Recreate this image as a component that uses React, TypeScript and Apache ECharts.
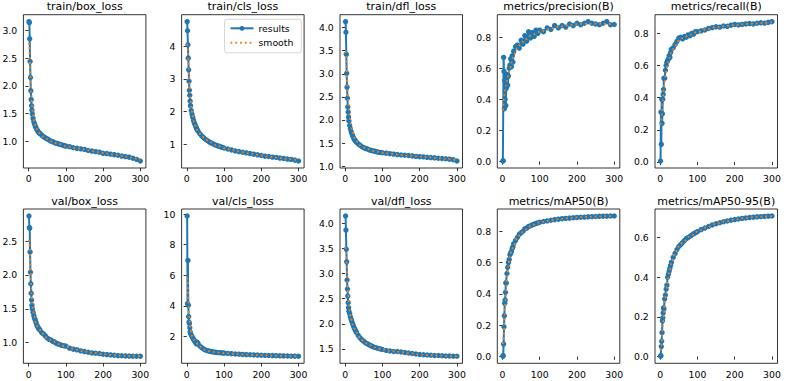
import React, { useEffect, useRef } from "react";
import * as echarts from "echarts";

// Epochs at which the per-epoch results are recorded (dense early, sparser later)
const EPOCHS = [
  1, 2, 3, 4, 5, 6, 7, 8, 9, 10,
  12, 14, 16, 18, 20, 22, 24, 26, 28, 30,
  35, 40, 45, 50, 55, 60, 65, 70, 75, 80, 85, 90, 95, 100,
  110, 120, 130, 140, 150, 160, 170, 180, 190, 200, 210, 220, 230, 240, 250, 260, 270, 280, 290, 300,
];

// Epochs at which the smoothed curve is sampled
const SMOOTH_EPOCHS = [1, 2, 3, 4, 5, 6, 7, 8, 10, 12, 15, 20, 25, 30, 40, 50, 60, 80, 100, 125, 150, 175, 200, 225, 250, 275, 300];

const TRAIN_BOX = [
  3.16, 3.14, 2.85, 2.44, 2.15, 1.91, 1.75, 1.64, 1.56, 1.49,
  1.41, 1.35, 1.31, 1.27, 1.24, 1.21, 1.19, 1.17, 1.15, 1.14,
  1.11, 1.08, 1.06, 1.04, 1.02, 1.0, 0.99, 0.97, 0.96, 0.95, 0.94, 0.93, 0.92, 0.91,
  0.9, 0.88, 0.87, 0.86, 0.85, 0.83, 0.82, 0.81, 0.8, 0.78, 0.775, 0.765, 0.755, 0.745, 0.73, 0.72, 0.71, 0.69, 0.67, 0.64,
];
const TRAIN_BOX_SMOOTH = [2.78, 2.7, 2.56, 2.38, 2.19, 2.02, 1.88, 1.76, 1.59, 1.47, 1.36, 1.25, 1.18, 1.14, 1.08, 1.04, 1.0, 0.95, 0.91, 0.875, 0.85, 0.815, 0.785, 0.76, 0.735, 0.7, 0.66];

const TRAIN_CLS = [
  4.76, 4.48, 4.05, 3.64, 3.28, 2.93, 2.65, 2.5, 2.32, 2.18,
  2.03, 1.92, 1.82, 1.73, 1.66, 1.6, 1.54, 1.49, 1.44, 1.4,
  1.32, 1.25, 1.2, 1.15, 1.11, 1.07, 1.04, 1.01, 0.98, 0.96, 0.94, 0.92, 0.9, 0.88,
  0.85, 0.82, 0.79, 0.77, 0.75, 0.73, 0.71, 0.69, 0.67, 0.65, 0.63, 0.62, 0.6, 0.59, 0.57, 0.56, 0.54, 0.53, 0.51, 0.48,
];
const TRAIN_CLS_SMOOTH = [4.08, 3.98, 3.8, 3.57, 3.33, 3.09, 2.88, 2.69, 2.38, 2.14, 1.9, 1.66, 1.51, 1.4, 1.25, 1.15, 1.07, 0.96, 0.88, 0.81, 0.75, 0.7, 0.65, 0.61, 0.57, 0.54, 0.5];

const TRAIN_DFL = [
  4.13, 3.9, 3.42, 3.01, 2.71, 2.47, 2.28, 2.17, 2.06, 1.98,
  1.88, 1.81, 1.75, 1.7, 1.66, 1.62, 1.59, 1.56, 1.54, 1.52,
  1.48, 1.45, 1.42, 1.4, 1.38, 1.37, 1.35, 1.34, 1.33, 1.32, 1.31, 1.3, 1.295, 1.29,
  1.28, 1.27, 1.26, 1.25, 1.24, 1.235, 1.23, 1.22, 1.21, 1.205, 1.2, 1.19, 1.185, 1.18, 1.17, 1.165, 1.16, 1.15, 1.14, 1.11,
];
const TRAIN_DFL_SMOOTH = [3.49, 3.41, 3.28, 3.11, 2.93, 2.76, 2.6, 2.46, 2.23, 2.07, 1.91, 1.74, 1.62, 1.54, 1.45, 1.4, 1.37, 1.32, 1.29, 1.265, 1.24, 1.225, 1.205, 1.19, 1.17, 1.155, 1.13];

const PRECISION = [
  0.003, 0.005, 0.67, 0.58, 0.34, 0.52, 0.4, 0.55, 0.36, 0.47,
  0.56, 0.49, 0.55, 0.6, 0.62, 0.66, 0.61, 0.68, 0.64, 0.71,
  0.74, 0.75, 0.73, 0.78, 0.755, 0.81, 0.775, 0.835, 0.795, 0.83, 0.805, 0.845, 0.825, 0.845,
  0.835, 0.86, 0.85, 0.875, 0.86, 0.875, 0.865, 0.885, 0.875, 0.89, 0.88, 0.89, 0.9, 0.89, 0.885, 0.88, 0.89, 0.9, 0.88, 0.882,
];
const PRECISION_SMOOTH = [0.33, 0.35, 0.38, 0.41, 0.43, 0.45, 0.46, 0.47, 0.49, 0.52, 0.55, 0.6, 0.64, 0.68, 0.73, 0.76, 0.785, 0.815, 0.835, 0.852, 0.866, 0.876, 0.884, 0.888, 0.887, 0.886, 0.882];

const RECALL = [
  0.006, 0.31, 0.11, 0.39, 0.24, 0.3, 0.39, 0.42, 0.45, 0.52,
  0.52, 0.57, 0.6, 0.62, 0.63, 0.64, 0.66, 0.65, 0.68, 0.7,
  0.71, 0.73, 0.75, 0.77, 0.775, 0.765, 0.78, 0.775, 0.79, 0.785, 0.8, 0.795, 0.81, 0.81,
  0.815, 0.82, 0.83, 0.835, 0.84, 0.838, 0.845, 0.843, 0.85, 0.855, 0.852, 0.855, 0.858, 0.86, 0.858, 0.862, 0.865, 0.863, 0.868, 0.872,
];
const RECALL_SMOOTH = [0.23, 0.24, 0.26, 0.29, 0.32, 0.35, 0.38, 0.41, 0.46, 0.5, 0.55, 0.61, 0.65, 0.68, 0.725, 0.755, 0.77, 0.79, 0.808, 0.826, 0.838, 0.845, 0.852, 0.857, 0.86, 0.864, 0.868];

const VAL_BOX = [
  2.87, 2.7, 2.69, 2.34, 2.04, 1.87, 1.73, 1.63, 1.55, 1.5,
  1.45, 1.4, 1.36, 1.33, 1.3, 1.26, 1.24, 1.22, 1.2, 1.19,
  1.15, 1.13, 1.1, 1.07, 1.05, 1.04, 1.02, 1.01, 0.99, 0.98, 0.97, 0.96, 0.955, 0.95,
  0.92, 0.905, 0.895, 0.88, 0.87, 0.86, 0.85, 0.845, 0.84, 0.83, 0.825, 0.82, 0.815, 0.81, 0.808, 0.805, 0.803, 0.8, 0.8, 0.8,
];
const VAL_BOX_SMOOTH = [2.52, 2.47, 2.38, 2.25, 2.1, 1.96, 1.84, 1.73, 1.58, 1.47, 1.39, 1.29, 1.23, 1.19, 1.13, 1.07, 1.04, 0.98, 0.945, 0.9, 0.87, 0.85, 0.832, 0.818, 0.808, 0.803, 0.8];

const VAL_CLS = [
  9.87, 4.15, 6.97, 4.04, 3.3, 2.95, 2.85, 2.57, 2.3, 2.2,
  2.1, 2.0, 1.9, 1.82, 1.75, 1.66, 1.6, 1.52, 1.62, 1.55,
  1.38, 1.28, 1.19, 1.12, 1.08, 1.05, 1.02, 1.0, 0.98, 0.96, 0.95, 0.94, 0.93, 0.92,
  0.9, 0.88, 0.86, 0.85, 0.83, 0.82, 0.81, 0.8, 0.79, 0.78, 0.77, 0.76, 0.755, 0.75, 0.74, 0.735, 0.73, 0.72, 0.715, 0.71,
];
const VAL_CLS_SMOOTH = [5.85, 5.55, 5.05, 4.48, 3.95, 3.5, 3.15, 2.88, 2.48, 2.2, 1.98, 1.74, 1.6, 1.5, 1.28, 1.12, 1.05, 0.96, 0.92, 0.875, 0.83, 0.805, 0.78, 0.758, 0.74, 0.725, 0.712];

const VAL_DFL = [
  4.14, 3.86, 3.48, 3.23, 2.87, 2.69, 2.55, 2.42, 2.32, 2.25,
  2.2, 2.14, 2.09, 2.04, 2.0, 1.96, 1.92, 1.89, 1.86, 1.83,
  1.77, 1.72, 1.68, 1.65, 1.62, 1.6, 1.58, 1.56, 1.545, 1.53, 1.52, 1.51, 1.5, 1.49,
  1.47, 1.46, 1.45, 1.45, 1.44, 1.43, 1.42, 1.41, 1.4, 1.39, 1.385, 1.38, 1.375, 1.37, 1.37, 1.365, 1.36, 1.36, 1.355, 1.355,
];
const VAL_DFL_SMOOTH = [3.52, 3.45, 3.33, 3.17, 3.0, 2.84, 2.7, 2.58, 2.4, 2.26, 2.11, 1.99, 1.9, 1.83, 1.72, 1.65, 1.6, 1.53, 1.49, 1.455, 1.44, 1.415, 1.39, 1.378, 1.37, 1.36, 1.355];

const MAP50 = [
  0.002, 0.006, 0.08, 0.19, 0.26, 0.34, 0.36, 0.41, 0.47, 0.47,
  0.53, 0.57, 0.6, 0.62, 0.65, 0.66, 0.67, 0.69, 0.7, 0.72,
  0.74, 0.76, 0.78, 0.79, 0.8, 0.815, 0.82, 0.83, 0.835, 0.84, 0.845, 0.85, 0.853, 0.857,
  0.862, 0.866, 0.87, 0.874, 0.877, 0.88, 0.882, 0.884, 0.886, 0.888, 0.889, 0.89, 0.892, 0.893, 0.894, 0.895, 0.896, 0.896, 0.897, 0.897,
];
const MAP50_SMOOTH = [0.08, 0.1, 0.13, 0.17, 0.22, 0.27, 0.32, 0.36, 0.43, 0.5, 0.57, 0.64, 0.68, 0.71, 0.76, 0.79, 0.81, 0.84, 0.857, 0.868, 0.877, 0.883, 0.888, 0.891, 0.894, 0.896, 0.897];

const MAP50_95 = [
  0.001, 0.004, 0.05, 0.077, 0.12, 0.18, 0.195, 0.22, 0.245, 0.24,
  0.29, 0.31, 0.34, 0.36, 0.4, 0.415, 0.43, 0.445, 0.46, 0.475,
  0.5, 0.52, 0.54, 0.555, 0.565, 0.575, 0.585, 0.595, 0.6, 0.607, 0.613, 0.62, 0.625, 0.63,
  0.64, 0.648, 0.656, 0.664, 0.67, 0.675, 0.68, 0.684, 0.688, 0.691, 0.694, 0.697, 0.699, 0.701, 0.703, 0.705, 0.706, 0.707, 0.708, 0.709,
];
const MAP50_95_SMOOTH = [0.03, 0.04, 0.055, 0.075, 0.1, 0.13, 0.155, 0.18, 0.22, 0.26, 0.31, 0.38, 0.43, 0.47, 0.52, 0.555, 0.575, 0.607, 0.63, 0.652, 0.67, 0.682, 0.691, 0.698, 0.703, 0.706, 0.708];

// Panel titles, in row-major order
const TITLES = [
  "train/box_loss", "train/cls_loss", "train/dfl_loss", "metrics/precision(B)", "metrics/recall(B)",
  "val/box_loss", "val/cls_loss", "val/dfl_loss", "metrics/mAP50(B)", "metrics/mAP50-95(B)",
];
const RESULTS = [TRAIN_BOX, TRAIN_CLS, TRAIN_DFL, PRECISION, RECALL, VAL_BOX, VAL_CLS, VAL_DFL, MAP50, MAP50_95];
const SMOOTHED = [
  TRAIN_BOX_SMOOTH, TRAIN_CLS_SMOOTH, TRAIN_DFL_SMOOTH, PRECISION_SMOOTH, RECALL_SMOOTH,
  VAL_BOX_SMOOTH, VAL_CLS_SMOOTH, VAL_DFL_SMOOTH, MAP50_SMOOTH, MAP50_95_SMOOTH,
];

// Tick labels
const X_TICKS = ["0", "100", "200", "300"];
const Y_TICKS = [
  ["1.0", "1.5", "2.0", "2.5", "3.0"],
  ["1", "2", "3", "4"],
  ["1.0", "1.5", "2.0", "2.5", "3.0", "3.5", "4.0"],
  ["0.0", "0.2", "0.4", "0.6", "0.8"],
  ["0.0", "0.2", "0.4", "0.6", "0.8"],
  ["1.0", "1.5", "2.0", "2.5"],
  ["2", "4", "6", "8", "10"],
  ["1.5", "2.0", "2.5", "3.0", "3.5", "4.0"],
  ["0.0", "0.2", "0.4", "0.6", "0.8"],
  ["0.0", "0.2", "0.4", "0.6"],
];

// Subplot frame geometry (px)
const COL_LEFT = [23.4, 181.6, 340.0, 497.3, 655.0];
const COL_WIDTH = 122.5;
const ROW_TOP = [14.7, 209.0];
const ROW_HEIGHT = [153.3, 154.3];
const TITLE_Y = [6.7, 201.0];

const BLUE = "#1f77b4";
const ORANGE = "#ff7f0e";
const FONT = "DejaVu Sans";

function paddedExtent(values: number[]): [number, number] {
  const lo = Math.min(...values);
  const hi = Math.max(...values);
  const pad = (hi - lo) * 0.05;
  return [lo - pad, hi + pad];
}

function buildOption() {
  const grids: any[] = [];
  const xAxes: any[] = [];
  const yAxes: any[] = [];
  const series: any[] = [];
  const titles: any[] = [];

  const firstEpoch = EPOCHS[0];
  const lastEpoch = EPOCHS[EPOCHS.length - 1];
  const xPad = (lastEpoch - firstEpoch) * 0.05;
  const xTickValues = X_TICKS.map(Number);

  TITLES.forEach((title, i) => {
    const row = Math.floor(i / 5);
    const col = i % 5;
    grids.push({
      left: COL_LEFT[col],
      top: ROW_TOP[row],
      width: COL_WIDTH,
      height: ROW_HEIGHT[row],
      show: true,
      borderColor: "#000",
      borderWidth: 0.8,
      backgroundColor: "transparent",
      containLabel: false,
      outerBoundsMode: "none",
    });

    const labels = Y_TICKS[i];
    const yTickValues = labels.map(Number);
    const [yMin, yMax] = paddedExtent([...RESULTS[i], ...SMOOTHED[i]]);

    xAxes.push({
      type: "value",
      gridIndex: i,
      min: firstEpoch - xPad,
      max: lastEpoch + xPad,
      axisLine: { show: false },
      splitLine: { show: false },
      axisTick: { show: true, length: 3.2, lineStyle: { color: "#000", width: 0.8 }, customValues: xTickValues },
      axisLabel: {
        show: true,
        margin: 6.2,
        fontSize: 9.3,
        fontFamily: FONT,
        color: "#000",
        customValues: xTickValues,
        formatter: (v: number) => X_TICKS[xTickValues.indexOf(v)] ?? String(v),
      },
    });
    yAxes.push({
      type: "value",
      gridIndex: i,
      min: yMin,
      max: yMax,
      axisLine: { show: false },
      splitLine: { show: false },
      axisTick: { show: true, length: 3.2, lineStyle: { color: "#000", width: 0.8 }, customValues: yTickValues },
      axisLabel: {
        show: true,
        margin: 6.2,
        fontSize: 9.3,
        fontFamily: FONT,
        color: "#000",
        customValues: yTickValues,
        formatter: (v: number) => {
          const k = yTickValues.findIndex((t) => Math.abs(t - v) < 1e-9);
          return k >= 0 ? labels[k] : String(v);
        },
      },
    });

    series.push({
      name: "results",
      type: "line",
      xAxisIndex: i,
      yAxisIndex: i,
      data: EPOCHS.map((e, k) => [e, RESULTS[i][k]]),
      symbol: "circle",
      symbolSize: 5.4,
      showSymbol: true,
      showAllSymbol: true,
      color: BLUE,
      itemStyle: { color: BLUE, borderWidth: 0 },
      lineStyle: { color: BLUE, width: 2 },
      emphasis: { disabled: true },
      z: 2,
    });
    series.push({
      name: "smooth",
      type: "line",
      xAxisIndex: i,
      yAxisIndex: i,
      data: SMOOTH_EPOCHS.map((e, k) => [e, SMOOTHED[i][k]]),
      symbol: "none",
      smooth: 0.35,
      smoothMonotone: "x",
      color: ORANGE,
      itemStyle: { color: ORANGE },
      lineStyle: { color: ORANGE, width: 1.8, type: [1.8, 3.0], cap: "butt" },
      emphasis: { disabled: true },
      z: 3,
    });

    titles.push({
      text: title,
      left: COL_LEFT[col] + COL_WIDTH / 2,
      top: TITLE_Y[row],
      textAlign: "center",
      textVerticalAlign: "middle",
      padding: 0,
      textStyle: { fontSize: 11, fontWeight: "normal", fontFamily: FONT, color: "#000" },
    });
  });

  return {
    animation: false,
    backgroundColor: "#fff",
    textStyle: { fontFamily: FONT },
    title: titles,
    grid: grids,
    xAxis: xAxes,
    yAxis: yAxes,
    series,
    legend: {
      show: true,
      orient: "vertical",
      left: 224.5,
      top: 19.3,
      data: [
        { name: "results" },
        // the smoothed curve has no markers: keep its key to the dotted line alone
        { name: "smooth", itemStyle: { opacity: 0 } },
      ],
      itemWidth: 23,
      itemHeight: 6,
      itemGap: 5.5,
      padding: [4.5, 8, 5.5, 5],
      backgroundColor: "rgba(255,255,255,0.8)",
      borderColor: "#cccccc",
      borderWidth: 0.8,
      borderRadius: 2.5,
      selectedMode: false,
      textStyle: { fontSize: 9.3, fontFamily: FONT, color: "#000" },
    },
  };
}

export default function App() {
  const ref = useRef<HTMLDivElement>(null);

  useEffect(() => {
    if (!ref.current) return;
    const chart = echarts.init(ref.current, null, { renderer: "svg" });
    chart.setOption(buildOption() as any);
    return () => chart.dispose();
  }, []);

  return (
    <div
      ref={ref}
      style={{ position: "fixed", left: 0, top: 0, width: 786, height: 381, background: "#fff" }}
    />
  );
}
